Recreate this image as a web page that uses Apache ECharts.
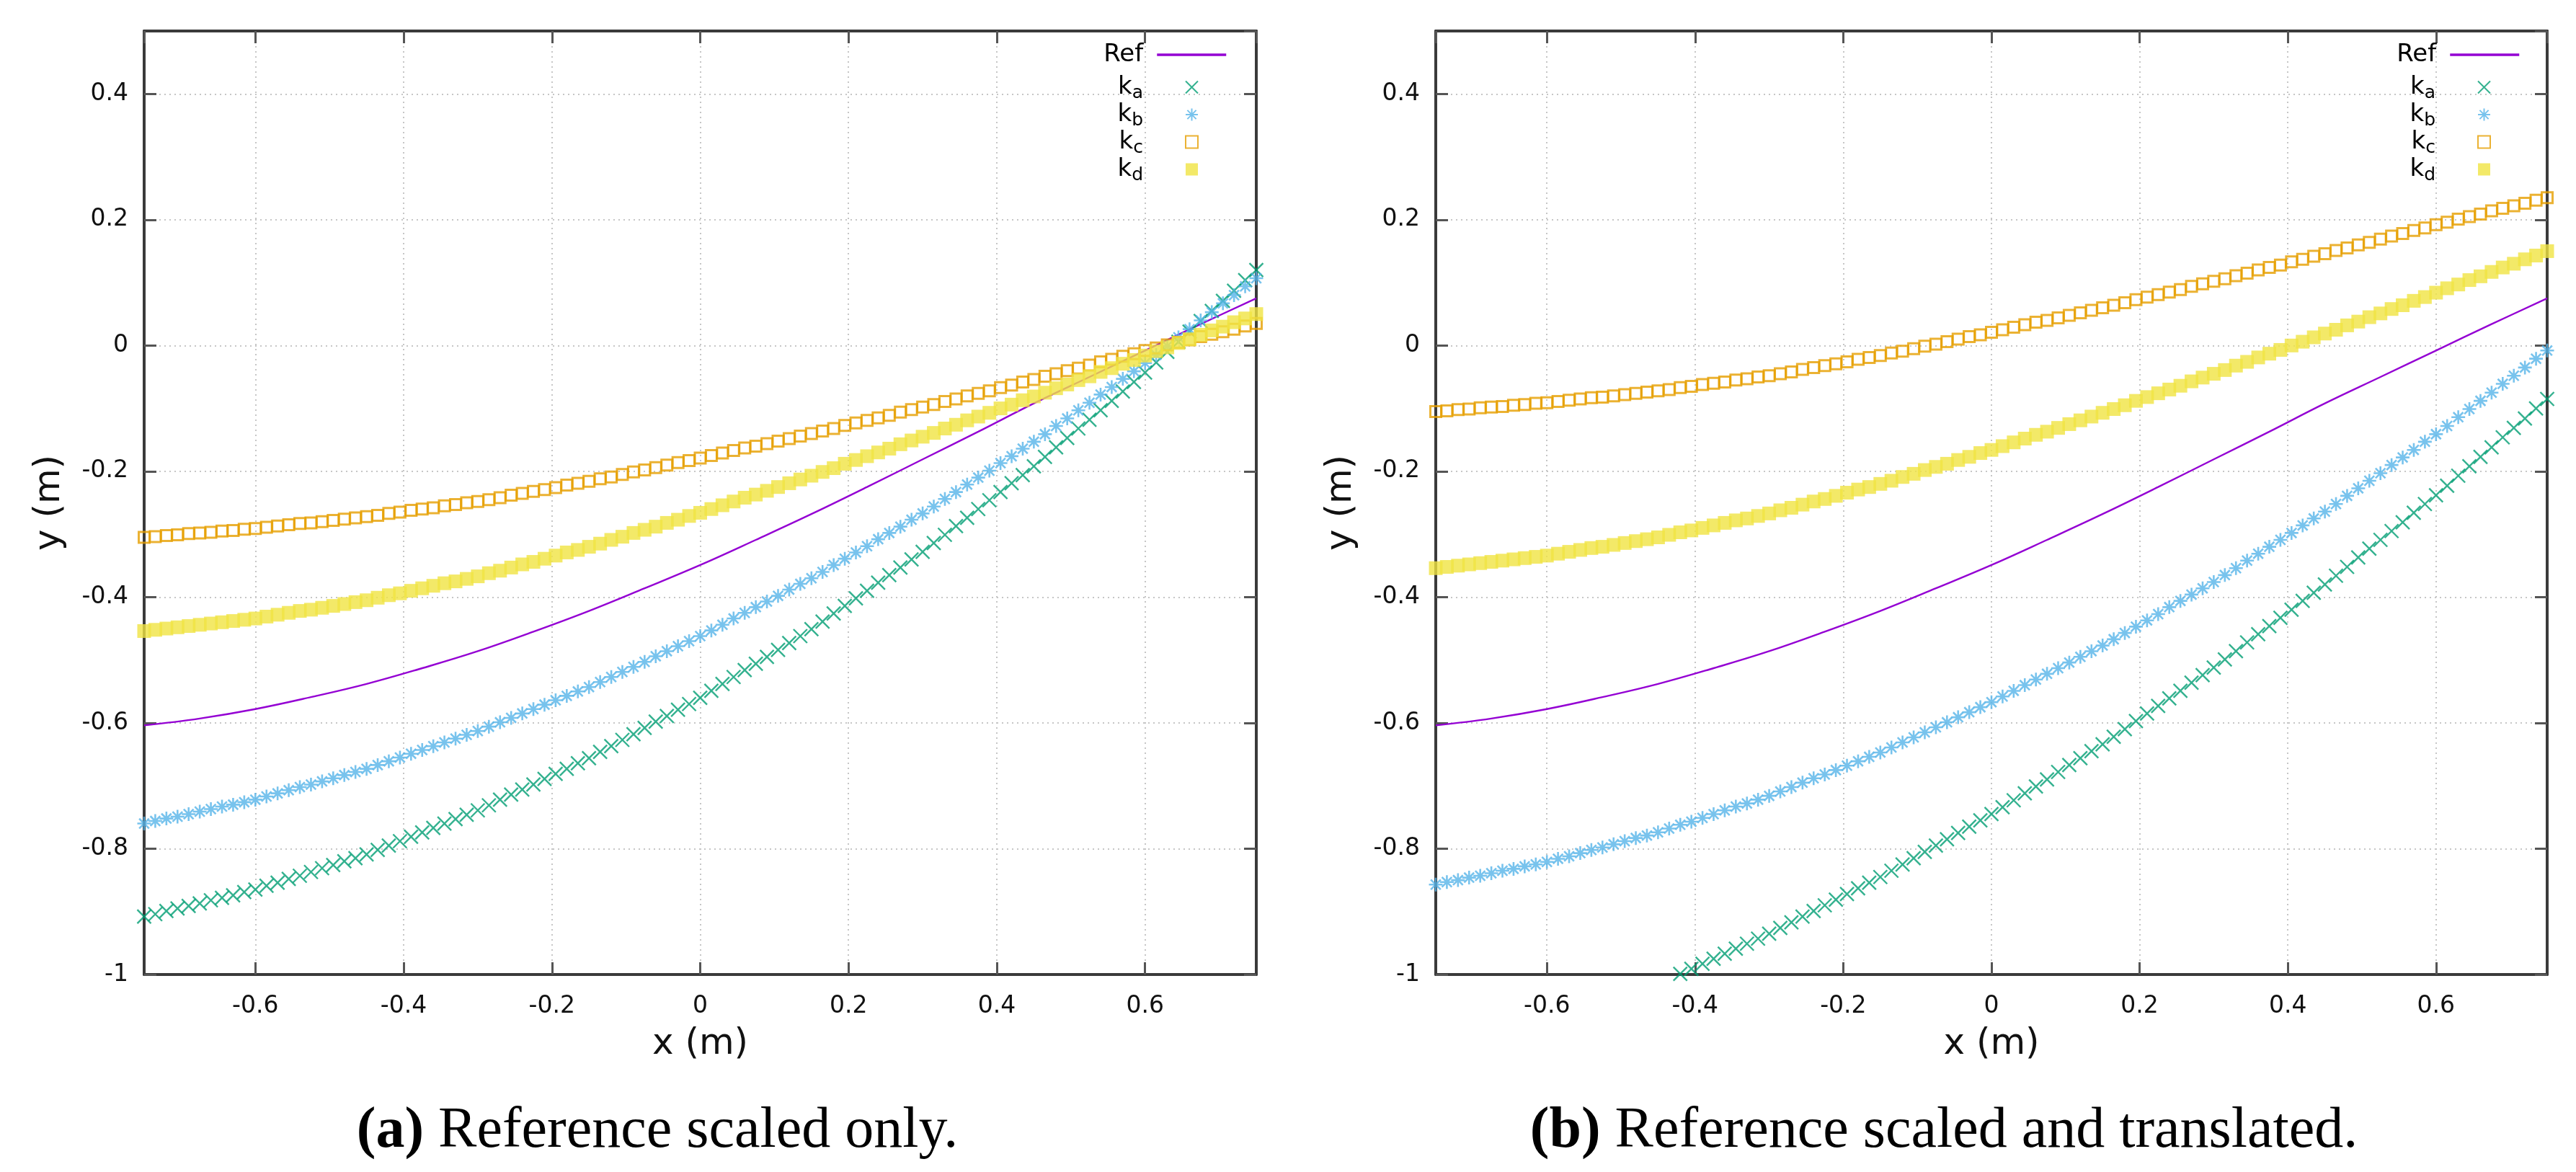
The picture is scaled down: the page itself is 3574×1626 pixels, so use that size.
<!DOCTYPE html>
<html><head><meta charset="utf-8">
<script src="https://cdn.jsdelivr.net/npm/echarts@6/dist/echarts.min.js"></script>
<style>html,body{margin:0;padding:0;background:#fff}#c{width:3574px;height:1626px}</style>
</head><body><div id="c"></div>
<script>
// ---------- data ----------
const xs = [-0.75,-0.735,-0.72,-0.705,-0.69,-0.675,-0.66,-0.645,-0.63,-0.615,
-0.6,-0.585,-0.57,-0.555,-0.54,-0.525,-0.51,-0.495,-0.48,-0.465,
-0.45,-0.435,-0.42,-0.405,-0.39,-0.375,-0.36,-0.345,-0.33,-0.315,
-0.3,-0.285,-0.27,-0.255,-0.24,-0.225,-0.21,-0.195,-0.18,-0.165,
-0.15,-0.135,-0.12,-0.105,-0.09,-0.075,-0.06,-0.045,-0.03,-0.015,
0,0.015,0.03,0.045,0.06,0.075,0.09,0.105,0.12,0.135,
0.15,0.165,0.18,0.195,0.21,0.225,0.24,0.255,0.27,0.285,
0.3,0.315,0.33,0.345,0.36,0.375,0.39,0.405,0.42,0.435,
0.45,0.465,0.48,0.495,0.51,0.525,0.54,0.555,0.57,0.585,
0.6,0.615,0.63,0.645,0.66,0.675,0.69,0.705,0.72,0.735,0.75];

const refX = [-0.75,-0.675,-0.6,-0.525,-0.45,-0.375,-0.3,-0.225,-0.15,-0.075,0,0.075,0.15,0.225,0.3,0.375,0.45,0.525,0.6,0.675,0.75];
const refY = [-0.604,-0.593,-0.578,-0.559,-0.538,-0.513,-0.486,-0.455,-0.422,-0.386,-0.349,-0.309,-0.268,-0.225,-0.181,-0.137,-0.092,-0.050,-0.008,0.034,0.075];

// panel (a): reference scaled only
const kaA = [-0.908,-0.904,-0.899,-0.895,-0.891,-0.887,-0.882,-0.878,-0.874,-0.869,
-0.865,-0.859,-0.854,-0.848,-0.843,-0.837,-0.831,-0.826,-0.820,-0.815,
-0.809,-0.802,-0.795,-0.788,-0.781,-0.774,-0.767,-0.760,-0.753,-0.746,
-0.739,-0.731,-0.722,-0.714,-0.706,-0.698,-0.689,-0.681,-0.673,-0.664,
-0.656,-0.646,-0.637,-0.627,-0.618,-0.608,-0.598,-0.589,-0.579,-0.570,
-0.560,-0.549,-0.538,-0.527,-0.516,-0.506,-0.495,-0.484,-0.473,-0.462,
-0.451,-0.439,-0.426,-0.414,-0.402,-0.390,-0.377,-0.365,-0.353,-0.340,
-0.328,-0.314,-0.301,-0.287,-0.274,-0.260,-0.246,-0.233,-0.219,-0.206,
-0.192,-0.177,-0.162,-0.147,-0.132,-0.118,-0.103,-0.088,-0.073,-0.058,
-0.043,-0.027,-0.010,0.006,0.022,0.039,0.055,0.071,0.087,0.104,0.120];
const kbA = [-0.760,-0.756,-0.752,-0.749,-0.745,-0.741,-0.737,-0.733,-0.730,-0.726,
-0.722,-0.717,-0.712,-0.707,-0.702,-0.698,-0.693,-0.688,-0.683,-0.678,
-0.673,-0.667,-0.661,-0.655,-0.649,-0.643,-0.637,-0.631,-0.625,-0.619,
-0.613,-0.606,-0.599,-0.592,-0.585,-0.578,-0.571,-0.564,-0.557,-0.550,
-0.543,-0.535,-0.527,-0.519,-0.511,-0.503,-0.494,-0.486,-0.478,-0.470,
-0.462,-0.453,-0.444,-0.434,-0.425,-0.416,-0.407,-0.398,-0.388,-0.379,
-0.370,-0.360,-0.349,-0.339,-0.329,-0.319,-0.308,-0.298,-0.288,-0.277,
-0.267,-0.256,-0.244,-0.233,-0.221,-0.210,-0.199,-0.187,-0.176,-0.164,
-0.153,-0.141,-0.128,-0.116,-0.103,-0.091,-0.078,-0.066,-0.053,-0.041,
-0.028,-0.015,-0.001,0.013,0.026,0.040,0.053,0.067,0.080,0.094,0.107];
const kcA = [-0.305,-0.304,-0.302,-0.301,-0.299,-0.298,-0.297,-0.295,-0.294,-0.292,
-0.291,-0.289,-0.287,-0.285,-0.283,-0.282,-0.280,-0.278,-0.276,-0.274,
-0.272,-0.270,-0.267,-0.265,-0.262,-0.260,-0.258,-0.255,-0.253,-0.250,
-0.248,-0.245,-0.242,-0.238,-0.235,-0.232,-0.229,-0.226,-0.222,-0.219,
-0.216,-0.212,-0.209,-0.205,-0.201,-0.198,-0.194,-0.190,-0.186,-0.183,
-0.179,-0.175,-0.171,-0.167,-0.163,-0.160,-0.156,-0.152,-0.148,-0.144,
-0.140,-0.136,-0.132,-0.127,-0.123,-0.119,-0.115,-0.111,-0.106,-0.102,
-0.098,-0.094,-0.089,-0.085,-0.080,-0.076,-0.072,-0.067,-0.063,-0.058,
-0.054,-0.049,-0.045,-0.040,-0.036,-0.031,-0.026,-0.022,-0.017,-0.013,
-0.008,-0.004,0.001,0.005,0.009,0.014,0.018,0.022,0.026,0.031,0.035];
const kdA = [-0.454,-0.452,-0.450,-0.448,-0.446,-0.444,-0.442,-0.440,-0.438,-0.436,
-0.434,-0.431,-0.428,-0.425,-0.422,-0.420,-0.417,-0.414,-0.411,-0.408,
-0.405,-0.401,-0.397,-0.394,-0.390,-0.386,-0.382,-0.378,-0.375,-0.371,
-0.367,-0.362,-0.358,-0.353,-0.348,-0.344,-0.339,-0.334,-0.329,-0.325,
-0.320,-0.315,-0.309,-0.304,-0.298,-0.293,-0.288,-0.282,-0.277,-0.271,
-0.266,-0.260,-0.254,-0.248,-0.242,-0.237,-0.231,-0.225,-0.219,-0.213,
-0.207,-0.201,-0.195,-0.188,-0.182,-0.176,-0.170,-0.164,-0.157,-0.151,
-0.145,-0.139,-0.132,-0.126,-0.119,-0.113,-0.107,-0.100,-0.094,-0.087,
-0.081,-0.075,-0.068,-0.062,-0.055,-0.049,-0.042,-0.036,-0.029,-0.023,
-0.016,-0.009,-0.003,0.004,0.010,0.017,0.024,0.030,0.037,0.043,0.050];

// panel (b): reference scaled and translated
const kaB = [null,null,null,null,null,null,null,null,null,null,
null,null,null,null,null,null,null,null,null,null,
-1.015,-1.007,-0.999,-0.991,-0.983,-0.975,-0.967,-0.959,-0.951,-0.943,
-0.935,-0.926,-0.917,-0.908,-0.899,-0.890,-0.881,-0.872,-0.863,-0.854,
-0.845,-0.835,-0.825,-0.815,-0.805,-0.795,-0.785,-0.775,-0.765,-0.755,
-0.745,-0.734,-0.723,-0.712,-0.701,-0.690,-0.678,-0.667,-0.656,-0.645,
-0.634,-0.622,-0.610,-0.597,-0.585,-0.573,-0.561,-0.549,-0.536,-0.524,
-0.512,-0.499,-0.486,-0.472,-0.459,-0.446,-0.433,-0.420,-0.406,-0.393,
-0.380,-0.366,-0.352,-0.337,-0.323,-0.309,-0.295,-0.281,-0.266,-0.252,
-0.238,-0.223,-0.207,-0.192,-0.177,-0.162,-0.146,-0.131,-0.116,-0.100,-0.085];
const kbB = [-0.857,-0.853,-0.850,-0.846,-0.843,-0.839,-0.835,-0.832,-0.828,-0.825,
-0.821,-0.816,-0.812,-0.807,-0.802,-0.798,-0.793,-0.788,-0.783,-0.779,
-0.774,-0.768,-0.762,-0.757,-0.751,-0.745,-0.739,-0.733,-0.728,-0.722,
-0.716,-0.709,-0.702,-0.695,-0.688,-0.682,-0.675,-0.668,-0.661,-0.654,
-0.647,-0.639,-0.631,-0.623,-0.615,-0.607,-0.599,-0.591,-0.583,-0.575,
-0.567,-0.558,-0.549,-0.540,-0.531,-0.522,-0.513,-0.504,-0.495,-0.486,
-0.477,-0.467,-0.457,-0.447,-0.437,-0.427,-0.416,-0.406,-0.396,-0.386,
-0.376,-0.365,-0.354,-0.342,-0.331,-0.320,-0.309,-0.298,-0.286,-0.275,
-0.264,-0.252,-0.239,-0.227,-0.215,-0.203,-0.190,-0.178,-0.166,-0.153,
-0.141,-0.128,-0.114,-0.101,-0.088,-0.075,-0.061,-0.048,-0.035,-0.021,-0.008];
const kcB = [-0.105,-0.104,-0.102,-0.101,-0.099,-0.098,-0.097,-0.095,-0.094,-0.092,
-0.091,-0.089,-0.087,-0.085,-0.083,-0.082,-0.080,-0.078,-0.076,-0.074,
-0.072,-0.070,-0.067,-0.065,-0.062,-0.060,-0.058,-0.055,-0.053,-0.050,
-0.048,-0.045,-0.042,-0.038,-0.035,-0.032,-0.029,-0.026,-0.022,-0.019,
-0.016,-0.012,-0.009,-0.005,-0.001,0.002,0.006,0.010,0.014,0.017,
0.021,0.025,0.029,0.033,0.037,0.040,0.044,0.048,0.052,0.056,
0.060,0.064,0.068,0.073,0.077,0.081,0.085,0.089,0.094,0.098,
0.102,0.106,0.111,0.115,0.120,0.124,0.128,0.133,0.137,0.142,
0.146,0.151,0.155,0.160,0.164,0.169,0.174,0.178,0.183,0.187,
0.192,0.196,0.201,0.205,0.209,0.214,0.218,0.222,0.226,0.231,0.235];
const kdB = [-0.354,-0.352,-0.350,-0.348,-0.346,-0.344,-0.342,-0.340,-0.338,-0.336,
-0.334,-0.331,-0.328,-0.325,-0.322,-0.320,-0.317,-0.314,-0.311,-0.308,
-0.305,-0.301,-0.297,-0.294,-0.290,-0.286,-0.282,-0.278,-0.275,-0.271,
-0.267,-0.262,-0.258,-0.253,-0.248,-0.244,-0.239,-0.234,-0.229,-0.225,
-0.220,-0.215,-0.209,-0.204,-0.198,-0.193,-0.188,-0.182,-0.177,-0.171,
-0.166,-0.160,-0.154,-0.148,-0.142,-0.137,-0.131,-0.125,-0.119,-0.113,
-0.107,-0.101,-0.095,-0.088,-0.082,-0.076,-0.070,-0.064,-0.057,-0.051,
-0.045,-0.039,-0.032,-0.026,-0.019,-0.013,-0.007,0.000,0.006,0.013,
0.019,0.025,0.032,0.038,0.045,0.051,0.058,0.064,0.071,0.077,
0.084,0.091,0.097,0.104,0.110,0.117,0.124,0.130,0.137,0.143,0.150];

const seriesNames = ['Ref', 'ka', 'kb', 'kc', 'kd'];
const captions = ['Reference scaled only.', 'Reference scaled and translated.'];
const panelTags = ['(a)', '(b)'];

// ---------- style ----------
const F = 'DejaVu Sans';
const C = {Ref: '#9400d3', ka: '#009e73', kb: '#56b4e9', kc: '#e69f00', kd: '#f0e442'};
const SYM_X = 'path://M0 0L10 10M10 0L0 10';
const SYM_STAR = 'path://M5 0L5 10M0 5L10 5M1.4 1.4L8.6 8.6M8.6 1.4L1.4 8.6';
const grids = [
  {left: 200, top: 43, width: 1543, height: 1309},
  {left: 1992, top: 43, width: 1542, height: 1309}
];

const frameLine = {show: true, onZero: false, lineStyle: {color: '#3a3a3a', width: 4}};
const tickStyle = {show: true, inside: true, length: 17, lineStyle: {color: '#555', width: 3}};
const gridLine = {show: true, lineStyle: {color: '#c6c6c6', width: 2, type: [2, 5]}};

const xAxes = [], yAxes = [];
grids.forEach((g, gi) => {
  const xCommon = {type: 'value', gridIndex: gi, min: -0.75, max: 0.75, splitNumber: 7, minInterval: 0.2, maxInterval: 0.2};
  const yCommon = {type: 'value', gridIndex: gi, min: -1, max: 0.5, splitNumber: 7, minInterval: 0.2, maxInterval: 0.2};
  xAxes.push(Object.assign({}, xCommon, {
    position: 'bottom', name: 'x (m)', nameLocation: 'middle', nameGap: 72,
    nameTextStyle: {fontSize: 50, fontFamily: F, color: '#111'},
    axisLine: frameLine, axisTick: tickStyle,
    axisLabel: {margin: 28, fontSize: 33, fontFamily: F, color: '#111', showMinLabel: false, showMaxLabel: false},
    splitLine: gridLine
  }));
  xAxes.push(Object.assign({}, xCommon, {
    position: 'top', axisLine: frameLine, axisTick: tickStyle,
    axisLabel: {show: false}, splitLine: {show: false}
  }));
  yAxes.push(Object.assign({}, yCommon, {
    position: 'left', name: 'y (m)', nameLocation: 'middle', nameGap: 106, nameRotate: 90,
    nameTextStyle: {fontSize: 50, fontFamily: F, color: '#111'},
    axisLine: frameLine, axisTick: tickStyle,
    axisLabel: {margin: 22, fontSize: 33, fontFamily: F, color: '#111', showMaxLabel: false},
    splitLine: gridLine
  }));
  yAxes.push(Object.assign({}, yCommon, {
    position: 'right', axisLine: frameLine, axisTick: tickStyle,
    axisLabel: {show: false}, splitLine: {show: false}
  }));
});

function pts(arr) {
  return xs.map((x, i) => [x, arr[i]]).filter(p => p[1] !== null);
}

function panelSeries(gi, ka, kb, kc, kd) {
  const ax = {xAxisIndex: gi * 2, yAxisIndex: gi * 2};
  return [
    Object.assign({type: 'line', name: 'Ref', data: refX.map((x, i) => [x, refY[i]]),
      smooth: 0.4, symbol: 'none', showSymbol: false,
      lineStyle: {color: C.Ref, width: 2.4}, itemStyle: {color: C.Ref}, z: 2}, ax),
    Object.assign({type: 'scatter', name: 'ka', data: pts(ka), symbol: SYM_X, symbolSize: 19,
      itemStyle: {color: 'transparent', borderColor: C.ka, borderWidth: 2.4}, z: 3}, ax),
    Object.assign({type: 'scatter', name: 'kb', data: pts(kb), symbol: SYM_STAR, symbolSize: 19,
      itemStyle: {color: 'transparent', borderColor: C.kb, borderWidth: 2.6}, z: 4}, ax),
    Object.assign({type: 'scatter', name: 'kc', data: pts(kc), symbol: 'rect', symbolSize: 15,
      itemStyle: {color: 'transparent', borderColor: C.kc, borderWidth: 3}, z: 5}, ax),
    Object.assign({type: 'scatter', name: 'kd', data: pts(kd), symbol: 'rect', symbolSize: 19,
      itemStyle: {color: C.kd}, z: 6}, ax)
  ];
}

const legendRich = {
  n: {fontSize: 34, fontFamily: F, color: '#000', lineHeight: 42},
  s: {fontSize: 25, fontFamily: F, color: '#000', lineHeight: 26, verticalAlign: 'bottom'},
  sp1: {width: 14, lineHeight: 42},
  sp2: {width: 54, lineHeight: 42}
};
function legendFmt(name) {
  if (name === 'Ref') return '{n|Ref}{sp1| }';
  return '{n|k}{s|' + name.slice(1) + '}{sp2| }';
}
const legendBase = {orient: 'vertical', align: 'right', padding: 0, itemGap: 0, formatter: legendFmt,
  textStyle: {fontFamily: F, fontSize: 34, color: '#000', rich: legendRich}, selectedMode: false};
const legends = [];
[{refRight: 1871, kRight: 1911}, {refRight: 77, kRight: 118}].forEach(p => {
  legends.push(Object.assign({}, legendBase, {data: ['Ref'], right: p.refRight, top: 59,
    itemWidth: 96, itemHeight: 16, lineStyle: {width: 3.5}, itemStyle: {opacity: 0}}));
  legends.push(Object.assign({}, legendBase, {data: ['ka', 'kb', 'kc', 'kd'], right: p.kRight, top: 104,
    itemWidth: 17, itemHeight: 17}));
});

const chart = echarts.init(document.getElementById('c'), null, {renderer: 'canvas'});
chart.setOption({
  backgroundColor: '#fff',
  animation: false,
  grid: grids.map(g => Object.assign({outerBoundsMode: 'none', containLabel: false}, g)),
  xAxis: xAxes,
  yAxis: yAxes,
  legend: legends,
  graphic: [0, 1].map(i => ({
    type: 'text', x: i === 0 ? 912 : 2697, y: 1570,
    style: {
      text: '{b|' + panelTags[i] + '} ' + captions[i],
      fontFamily: 'Liberation Serif', fontSize: 80, fill: '#000',
      align: 'center', verticalAlign: 'middle',
      rich: {b: {fontFamily: 'Liberation Serif', fontSize: 80, fontWeight: 'bold', fill: '#000'}}
    }
  })),
  series: [].concat(panelSeries(0, kaA, kbA, kcA, kdA), panelSeries(1, kaB, kbB, kcB, kdB))
});
</script>
</body></html>
